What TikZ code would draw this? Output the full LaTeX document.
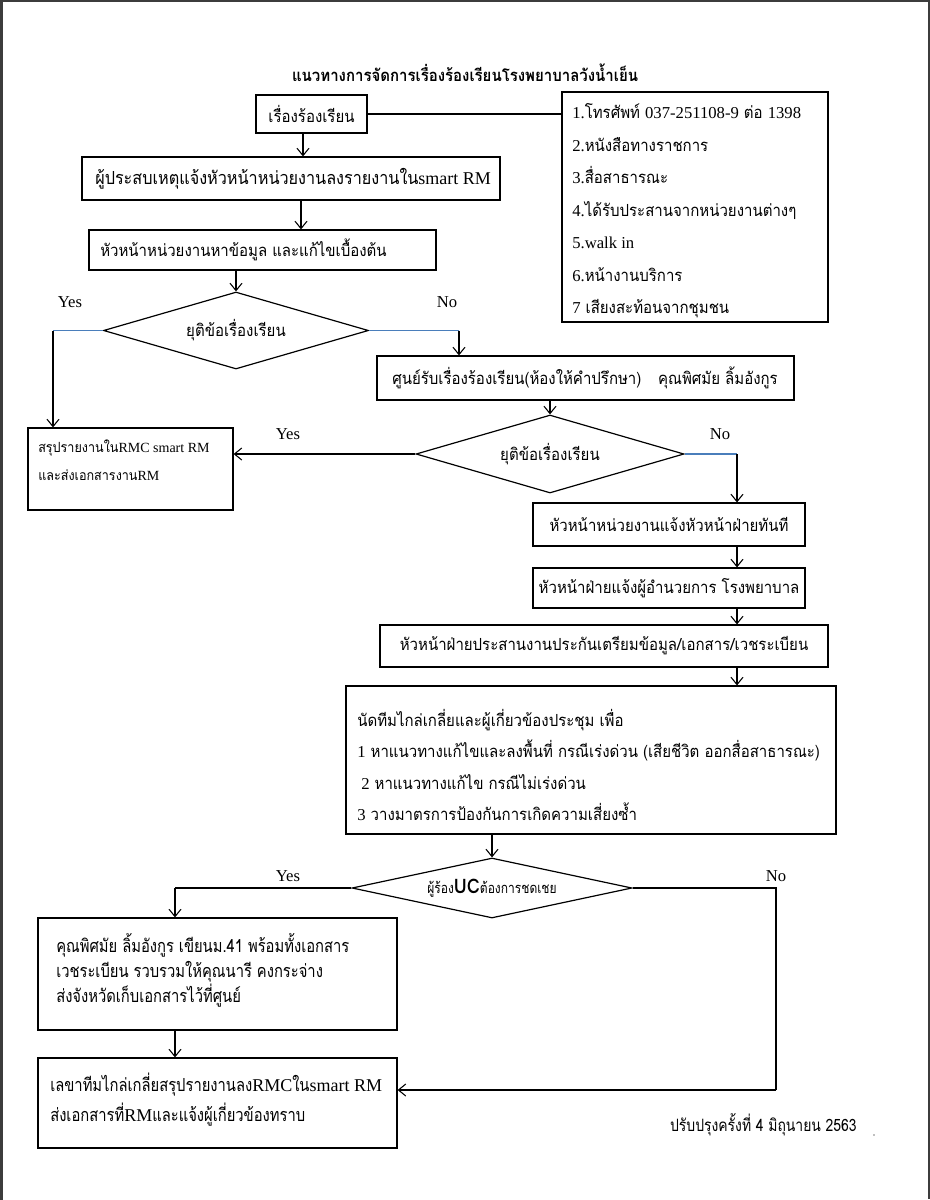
\documentclass[tikz,border=0pt]{standalone}
\usepackage{fontspec}
\setmainfont{Liberation Serif}
\newfontfamily\thai[Script=Thai,FakeStretch=0.9]{Loma}
\newfontfamily\thain[Script=Thai,FakeStretch=0.82]{Loma}
\usetikzlibrary{shapes.geometric,arrows.meta}
\newcommand\lat[1]{{\rmfamily #1}}
\definecolor{conblue}{RGB}{74,126,187}
\definecolor{framegrey}{RGB}{60,60,60}
\tikzset{
  box/.style={draw=black,line width=0.9pt,rectangle,inner sep=0pt},
  dia/.style={draw=black,line width=0.9pt,diamond,inner sep=0pt,shape aspect=3.4},
  txt/.style={inner sep=0pt,align=left,font=\thai\fontsize{12.5}{21}\selectfont},
  ctxt/.style={inner sep=0pt,align=center,font=\thai\fontsize{12.5}{21}\selectfont},
  lbl/.style={inner sep=0pt,font=\rmfamily\fontsize{12.5}{15}\selectfont},
  arr/.style={line width=0.8pt,-{Straight Barb[length=5.5pt,width=9pt,line width=0.8pt]}},
  plain/.style={line width=0.8pt},
  blueseg/.style={line width=0.8pt,draw=conblue}
}
\begin{document}
\begin{tikzpicture}[x=0.75pt,y=-0.75pt]
\useasboundingbox (0,0) rectangle (930,1200);
\fill[white] (0,0) rectangle (930,1200);
% page frame
\draw[framegrey,line width=1.5pt] (1,1) -- (929,1) -- (929,1199);
\draw[framegrey,line width=2.4pt] (1.5,0) -- (1.5,1200);

% title
\node[inner sep=0pt,font=\thai\bfseries\fontsize{12.5}{15}\selectfont] (title) at (465,73) {แนวทางการจัดการเรื่องร้องเรียนโรงพยาบาลวังน้ำเย็น};

% box A
\node[box,minimum width=83.25pt,minimum height=28.5pt] (A) at (311.5,114) {};
\node[ctxt] (At) at (A.center) {เรื่องร้องเรียน};

% list box
\node[box,minimum width=199.5pt,minimum height=172.5pt] (list) at (695,207) {};
\node[txt,anchor=west,font=\thai\fontsize{12.5}{24.4}\selectfont] (listt) at (572,211) {\lat{1.}โทรศัพท์ \lat{037-251108-9} ต่อ \lat{1398}\\
\lat{2.}หนังสือทางราชการ\\
\lat{3.}สื่อสาธารณะ\\
\lat{4.}ได้รับประสานจากหน่วยงานต่างๆ\\
\lat{5.walk in}\\
\lat{6.}หน้างานบริการ\\
\lat{7} เสียงสะท้อนจากชุมชน};
\draw[plain] (A.east) -- (A.east -| list.west);

% box B
\node[box,minimum width=313.5pt,minimum height=32.25pt] (B) at (291,178.5) {};
\node[txt,anchor=west,font=\thai\fontsize{13.5}{16}\selectfont] (Bt) at (95,178.5) {ผู้ประสบเหตุแจ้งหัวหน้าหน่วยงานลงรายงานใน\lat{smart RM}};

% box C
\node[box,minimum width=260.25pt,minimum height=30pt] (C) at (262.5,250) {};
\node[txt,anchor=west] (Ct) at (100,250) {หัวหน้าหน่วยงานหาข้อมูล และแก้ไขเบื้องต้น};

% diamond 1
\node[dia,minimum width=198.75pt,minimum height=57.75pt] (D1) at (236,330.5) {};
\node[ctxt] (D1t) at (D1.center) {ยุติข้อเรื่องเรียน};

% box E
\node[box,minimum width=153.75pt,minimum height=61.5pt] (E) at (130.5,469) {};
\node[txt,anchor=west,font=\thai\fontsize{10.5}{21}\selectfont] (Et) at (38,460) {สรุปรายงานใน\lat{RMC smart RM}\\และส่งเอกสารงาน\lat{RM}};

% box F
\node[box,minimum width=312.75pt,minimum height=33pt] (F) at (585.5,378) {};
\node[txt,anchor=west] (Ft) at (392,378) {ศูนย์รับเรื่องร้องเรียน(ห้องให้คำปรึกษา)\quad คุณพิศมัย ลิ้มอังกูร};

% diamond 2
\node[dia,minimum width=201pt,minimum height=58.5pt] (D2) at (550,454) {};
\node[ctxt] (D2t) at (D2.center) {ยุติข้อเรื่องเรียน};

% boxes G H I
\node[box,minimum width=204pt,minimum height=32.25pt] (G) at (669,524.5) {};
\node[ctxt] (Gt) at (G.center) {หัวหน้าหน่วยงานแจ้งหัวหน้าฝ่ายทันที};
\node[box,minimum width=204pt,minimum height=30pt] (H) at (669,588) {};
\node[ctxt] (Ht) at (H.center) {หัวหน้าฝ่ายแจ้งผู้อำนวยการ โรงพยาบาล};
\node[box,minimum width=336pt,minimum height=31.5pt] (I) at (604,646) {};
\node[ctxt] (It) at (I.center) {หัวหน้าฝ่ายประสานงานประกันเตรียมข้อมูล/เอกสาร/เวชระเบียน};

% box J
\node[box,minimum width=367.5pt,minimum height=111pt] (J) at (591,760) {};
\node[txt,anchor=west,font=\thai\fontsize{12.5}{23.3}\selectfont] (Jt) at (357,765) {นัดทีมไกล่เกลี่ยและผู้เกี่ยวข้องประชุม เพื่อ\\
\lat{1} หาแนวทางแก้ไขและลงพื้นที่ กรณีเร่งด่วน (เสียชีวิต ออกสื่อสาธารณะ)\\
\hspace*{3pt}\lat{2} หาแนวทางแก้ไข กรณีไม่เร่งด่วน\\
\lat{3} วางมาตรการป้องกันการเกิดความเสี่ยงซ้ำ};

% diamond 3
\node[dia,minimum width=210pt,minimum height=45pt,shape aspect=4.6] (D3) at (492,888) {};
\node[ctxt,font=\thain\fontsize{11}{13}\selectfont] (D3t) at (D3.center) {ผู้ร้อง{\thai\bfseries\fontsize{15}{16}\selectfont UC}ต้องการชดเชย};

% box K
\node[box,minimum width=269.25pt,minimum height=84pt] (K) at (217.5,974) {};
\node[txt,anchor=west,font=\thain\fontsize{13.5}{18.75}\selectfont] (Kt) at (56,970) {คุณพิศมัย ลิ้มอังกูร เขียนม.41 พร้อมทั้งเอกสาร\\
เวชระเบียน รวบรวมให้คุณนารี คงกระจ่าง\\
ส่งจังหวัดเก็บเอกสารไว้ที่ศูนย์};

% box L
\node[box,minimum width=269.25pt,minimum height=67.5pt] (L) at (217.5,1103) {};
\node[txt,anchor=west,font=\thain\fontsize{13.5}{22.5}\selectfont] (Lt) at (50,1100) {เลขาทีมไกล่เกลี่ยสรุปรายงานลง\lat{RMC}ใน\lat{smart RM}\\
ส่งเอกสารที่\lat{RM}และแจ้งผู้เกี่ยวข้องทราบ};

% footer
\node[inner sep=0pt,anchor=east,font=\thain\fontsize{12.75}{15}\selectfont] (foot) at (857,1125) {ปรับปรุงครั้งที่ 4 มิถุนายน 2563};
\fill[gray] (874,1135) circle (0.8);

% labels
\node[lbl] (y1) at (70,302) {Yes};
\node[lbl] (n1) at (447,302) {No};
\node[lbl] (y2) at (288,434) {Yes};
\node[lbl] (n2) at (720,434) {No};
\node[lbl] (y3) at (288,876) {Yes};
\node[lbl] (n3) at (776,876) {No};

% coordinates
\coordinate (c1) at (53,330.5);
\coordinate (c2) at (459,330.5);
\coordinate (c3) at (737,454);
\coordinate (c4) at (175,888);
\coordinate (c5) at (776,888);
\coordinate (c6) at (776,1090);

% connectors
\draw[arr] (A.south -| 303,0) -- (B.north -| 303,0);
\draw[arr] (B.south -| 301,0) -- (C.north -| 301,0);
\draw[arr] (C.south -| D1.north) -- (D1.north);
\draw[blueseg] (D1.west) -- (c1);
\draw[arr] (c1) -- (c1 |- E.north);
\draw[blueseg] (D1.east) -- (c2);
\draw[arr] (c2) -- (c2 |- F.north);
\draw[arr] (F.south -| D2.north) -- (D2.north);
\draw[arr] (D2.west) -- (D2.west -| E.east);
\draw[blueseg] (D2.east) -- (c3);
\draw[arr] (c3) -- (c3 |- G.north);
\draw[arr] (G.south -| c3) -- (H.north -| c3);
\draw[arr] (H.south -| c3) -- (I.north -| c3);
\draw[arr] (I.south -| c3) -- (J.north -| c3);
\draw[arr] (J.south -| D3.north) -- (D3.north);
\draw[plain] (D3.west) -- (c4);
\draw[arr] (c4) -- (c4 |- K.north);
\draw[plain] (D3.east) -- (c5) -- (c6);
\draw[arr] (c6) -- (c6 -| L.east);
\draw[arr] (K.south -| c4) -- (L.north -| c4);
\end{tikzpicture}
\end{document}
